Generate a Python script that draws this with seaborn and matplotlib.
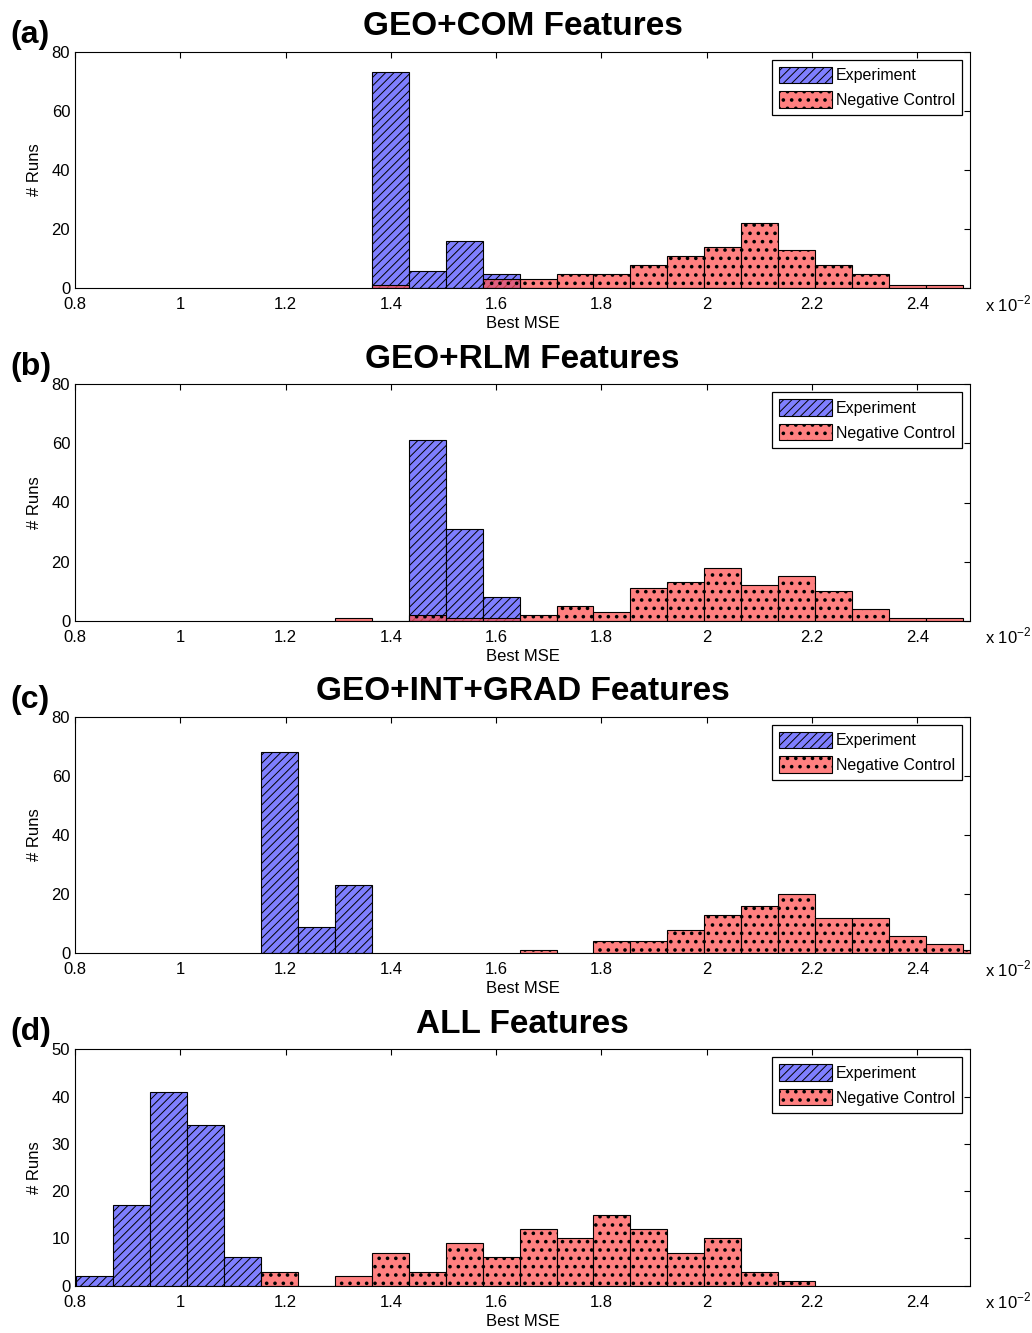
import numpy as np
import pandas as pd
import matplotlib
matplotlib.use('Agg')
import matplotlib.pyplot as plt
import seaborn as sns

# shared histogram grid (Best MSE in units of 1e-2)
BIN_START = 0.802
BIN_WIDTH = 0.0702
N_BINS = 25

TITLES = ['GEO+COM Features', 'GEO+RLM Features',
          'GEO+INT+GRAD Features', 'ALL Features']
PANEL_TAGS = ['(a)', '(b)', '(c)', '(d)']

# index of the first bin and number of runs per bin
EXP_FIRST = [8, 9, 5, 0]
EXP_COUNTS = [
    [73, 6, 16, 5],
    [61, 31, 8],
    [68, 9, 23],
    [2, 17, 41, 34, 6],
]
CTL_FIRST = [8, 7, 12, 5]
CTL_COUNTS = [
    [1, 0, 0, 3, 3, 5, 5, 8, 11, 14, 22, 13, 8, 5, 1, 1],
    [1, 0, 2, 1, 1, 2, 5, 3, 11, 13, 18, 12, 15, 10, 4, 1, 1],
    [1, 0, 4, 4, 8, 13, 16, 20, 12, 12, 6, 3, 1],
    [3, 0, 2, 7, 3, 9, 6, 12, 10, 15, 12, 7, 10, 3, 1],
]
Y_MAX = [80, 80, 80, 50]
Y_STEP = [20, 20, 20, 10]
X_TICKS = [0.8, 1.0, 1.2, 1.4, 1.6, 1.8, 2.0, 2.2, 2.4]
X_TICK_LABELS = ['0.8', '1', '1.2', '1.4', '1.6', '1.8', '2', '2.2', '2.4']

EXP_COLOR = '#7f7fff'
CTL_COLOR = (1.0, 1 / 3, 1 / 3)


def setup_style():
    sns.set_style('white')
    plt.rcParams['font.family'] = ['Liberation Sans', 'DejaVu Sans']
    plt.rcParams['mathtext.fontset'] = 'custom'
    plt.rcParams['mathtext.rm'] = 'Liberation Sans'
    plt.rcParams['hatch.linewidth'] = 0.7
    plt.rcParams['axes.edgecolor'] = 'black'
    plt.rcParams['axes.linewidth'] = 0.8
    for key in ['text.color', 'axes.labelcolor', 'xtick.color', 'ytick.color']:
        plt.rcParams[key] = 'black'


edges = BIN_START + BIN_WIDTH * np.arange(N_BINS + 1)


def draw_series(ax, first, counts, **kws):
    e = edges[first:first + len(counts) + 1]
    df = pd.DataFrame({'mse': (e[:-1] + e[1:]) / 2,
                       'runs': np.asarray(counts, dtype=float)})
    n_before = len(ax.patches)
    sns.histplot(data=df, x='mse', weights='runs', bins=e.tolist(),
                 ax=ax, **kws)
    return ax.patches[n_before:]


setup_style()
fig = plt.figure(figsize=(10.32, 13.33), dpi=100)

W, H = 1032, 1333
left_px, right_px = 75, 970
ax_h_px = 236.6
first_bottom_px = 288.3
step_px = 332.5

for i in range(4):
    bottom_px = first_bottom_px + i * step_px
    ax = fig.add_axes([left_px / W, 1 - bottom_px / H,
                       (right_px - left_px) / W, ax_h_px / H])

    draw_series(ax, EXP_FIRST[i], EXP_COUNTS[i], color=EXP_COLOR, alpha=1,
                edgecolor='black', linewidth=0.8, hatch='////',
                label='Experiment')
    ctl_bars = draw_series(ax, CTL_FIRST[i], CTL_COUNTS[i], color=CTL_COLOR,
                           alpha=0.75, edgecolor='black', linewidth=0.8,
                           hatch='..', label='Negative Control')
    # bigger dots for the control pattern
    for p in ctl_bars:
        if hasattr(p, 'set_hatch_linewidth'):
            p.set_hatch_linewidth(1.4)

    ax.set_xlim(0.8, 2.5)
    ax.set_ylim(0, Y_MAX[i])
    ax.set_xticks(X_TICKS)
    ax.set_xticklabels(X_TICK_LABELS)
    ax.set_yticks(np.arange(0, Y_MAX[i] + 1, Y_STEP[i]))
    ax.tick_params(direction='in', top=True, right=True, length=4.3,
                   width=0.8, labelsize=12)
    ax.tick_params(axis='x', pad=6.5)
    ax.tick_params(axis='y', pad=3.5)
    for s in ax.spines.values():
        s.set_visible(True)
        s.set_color('black')

    ax.set_xlabel('Best MSE', fontsize=12, labelpad=3)
    ax.set_ylabel('# Runs', fontsize=12, labelpad=7)
    ax.set_title(TITLES[i], fontsize=24, fontweight='bold', pad=12)

    ax.text(-0.0726, 1.038, PANEL_TAGS[i], transform=ax.transAxes,
            fontsize=23, fontweight='bold', ha='left', va='baseline')
    ax.text(1.0168, -0.066, r'x 10$^{-2}$', transform=ax.transAxes,
            fontsize=12, ha='left', va='center')

    leg = ax.legend(loc='upper right', fontsize=11.5, frameon=True,
                    fancybox=False, framealpha=1, edgecolor='black',
                    handlelength=3.3, handleheight=1.2, handletextpad=0.25,
                    labelspacing=0.5, borderpad=0.45, borderaxespad=0.5)
    leg.get_frame().set_linewidth(0.9)
    for h in leg.legend_handles:
        if h.get_hatch() == '..' and hasattr(h, 'set_hatch_linewidth'):
            h.set_hatch_linewidth(1.4)

plt.savefig('out.png', dpi=100)
